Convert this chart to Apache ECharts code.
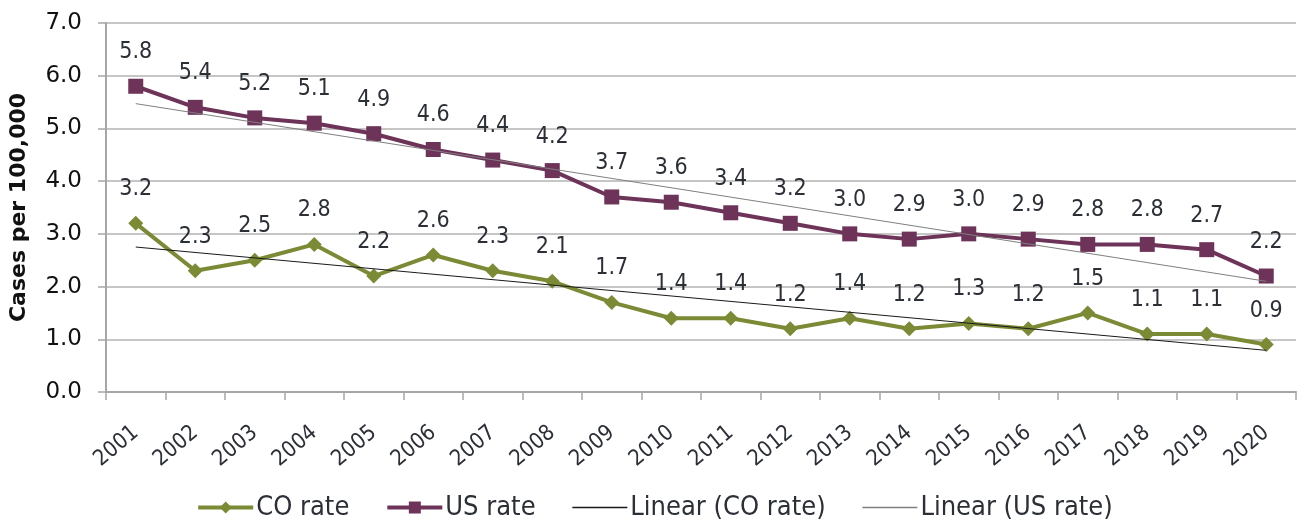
<!DOCTYPE html>
<html>
<head>
<meta charset="utf-8">
<style>
  html, body { margin: 0; padding: 0; background: #ffffff; }
  #chart { width: 1309px; height: 521px; }
</style>
<script src="https://cdn.jsdelivr.net/npm/echarts@6/dist/echarts.min.js"></script>
</head>
<body>
<div id="chart"></div>
<script>
// Rates of cases per 100,000, 2001-2020
const years = ['2001','2002','2003','2004','2005','2006','2007','2008','2009','2010',
               '2011','2012','2013','2014','2015','2016','2017','2018','2019','2020'];
const coRate = [3.2, 2.3, 2.5, 2.8, 2.2, 2.6, 2.3, 2.1, 1.7, 1.4,
                1.4, 1.2, 1.4, 1.2, 1.3, 1.2, 1.5, 1.1, 1.1, 0.9];
const usRate = [5.8, 5.4, 5.2, 5.1, 4.9, 4.6, 4.4, 4.2, 3.7, 3.6,
                3.4, 3.2, 3.0, 2.9, 3.0, 2.9, 2.8, 2.8, 2.7, 2.2];
// Linear trend lines: values at the first and last year
const coTrendEnds = [2.75, 0.79];
const usTrendEnds = [5.47, 2.10];
const yTicks = [0, 1, 2, 3, 4, 5, 6, 7];

const FONT = '"DejaVu Sans", sans-serif';
const FONT_C = '"DejaVu Sans Condensed", "DejaVu Sans", sans-serif';
const TEXT = '#2b2f36';
const CO_COLOR = '#7a8a35';
const US_COLOR = '#6d3358';
const CO_TREND = '#1a1a1a';
const US_TREND = '#7f7f7f';

function endpoints(ends) {
  return years.map((y, i) => i === 0 ? ends[0] : (i === years.length - 1 ? ends[1] : null));
}

const valueLabel = {
  show: true, position: 'top', distance: 15,
  fontFamily: FONT_C, fontSize: 23, color: TEXT,
  formatter: p => p.value.toFixed(1)
};

const yRange = { type: 'value', min: yTicks[0], max: yTicks[yTicks.length - 1], interval: 1 };

const chart = echarts.init(document.getElementById('chart'));
chart.setOption({
  animation: false,
  backgroundColor: '#ffffff',
  grid: { left: 106, right: 13, top: 23, bottom: 129, outerBoundsMode: 'none' },
  legend: {
    top: 489,
    left: 'center',
    itemGap: 36,
    itemWidth: 55,
    itemHeight: 15,
    textStyle: { fontFamily: FONT_C, fontSize: 27, color: TEXT, padding: [0, 0, 0, -2] },
    data: [
      { name: 'CO rate', lineStyle: { width: 4 } },
      { name: 'US rate', lineStyle: { width: 4 } },
      { name: 'Linear (CO rate)', itemStyle: { opacity: 0 }, lineStyle: { width: 1.5, color: CO_TREND } },
      { name: 'Linear (US rate)', itemStyle: { opacity: 0 }, lineStyle: { width: 1.5, color: US_TREND } }
    ]
  },
  xAxis: {
    type: 'category',
    data: years,
    boundaryGap: true,
    axisLine: { lineStyle: { color: '#a6a6a6', width: 2 } },
    axisTick: { show: true, length: 8, alignWithLabel: false, lineStyle: { color: '#a6a6a6', width: 1.5 } },
    axisLabel: {
      rotate: 40, interval: 0, margin: 38,
      fontFamily: FONT_C, fontSize: 22, color: TEXT
    }
  },
  yAxis: [
    // value axis carrying the line, ticks and grid lines
    Object.assign({}, yRange, {
      position: 'left',
      axisLine: { show: true, lineStyle: { color: '#a6a6a6', width: 2 } },
      axisTick: { show: true, length: 8, lineStyle: { color: '#a6a6a6', width: 1.5 } },
      splitLine: { lineStyle: { color: '#b3b3b3', width: 1.5 } },
      axisLabel: { show: false }
    }),
    // same scale, set further out, carrying the tick labels and title
    Object.assign({}, yRange, {
      position: 'left',
      offset: 12,
      name: 'Cases per 100,000',
      nameLocation: 'middle',
      nameGap: 64,
      nameMoveOverlap: false,
      nameTextStyle: { fontFamily: FONT, fontSize: 22, fontWeight: 'bold', color: '#111' },
      axisLine: { show: false },
      axisTick: { show: false },
      splitLine: { show: false },
      axisLabel: {
        margin: 12,
        fontFamily: FONT, fontSize: 23, color: '#111',
        formatter: v => v.toFixed(1)
      }
    })
  ],
  series: [
    {
      name: 'CO rate',
      type: 'line',
      data: coRate,
      symbol: 'diamond',
      symbolSize: 15,
      z: 4,
      lineStyle: { color: CO_COLOR, width: 4 },
      itemStyle: { color: CO_COLOR },
      label: valueLabel
    },
    {
      name: 'US rate',
      type: 'line',
      data: usRate,
      symbol: 'rect',
      symbolSize: 15,
      z: 4,
      lineStyle: { color: US_COLOR, width: 4 },
      itemStyle: { color: US_COLOR },
      label: valueLabel
    },
    {
      name: 'Linear (CO rate)',
      type: 'line',
      data: endpoints(coTrendEnds),
      connectNulls: true,
      symbol: 'none',
      z: 5,
      lineStyle: { color: CO_TREND, width: 1 },
      itemStyle: { color: CO_TREND }
    },
    {
      name: 'Linear (US rate)',
      type: 'line',
      data: endpoints(usTrendEnds),
      connectNulls: true,
      symbol: 'none',
      z: 5,
      lineStyle: { color: US_TREND, width: 1 },
      itemStyle: { color: US_TREND }
    }
  ]
});
</script>
</body>
</html>
